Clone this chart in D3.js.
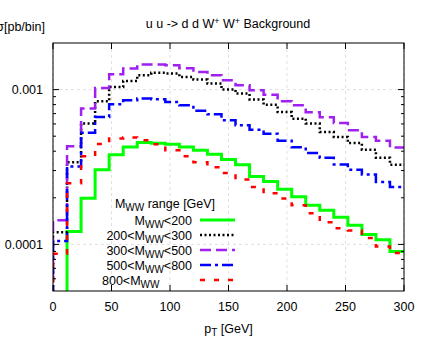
<!DOCTYPE html>
<html>
<head>
<meta charset="utf-8">
<script src="https://cdn.jsdelivr.net/npm/d3@7"></script>
<style>
  body { margin: 0; background: #fff; }
  svg { display: block; }
  text { font-family: "Liberation Sans", Arial, Helvetica, sans-serif; }
</style>
</head>
<body>
<svg id="chart" width="427" height="349"></svg>
<script>
// bins of 12 GeV from 0 to 300
var binEdges = d3.range(0, 301, 12);

var xTicks = [0, 50, 100, 150, 200, 250, 300];
var yTicks = [0.0001, 0.001];
var yTickLabels = ["0.0001", "0.001"];

// dsigma per bin, one value per 12 GeV bin
var mwwLt200 = [0, 1.21e-4, 1.99e-4, 3.04e-4, 3.80e-4, 4.26e-4, 4.56e-4, 4.50e-4, 4.43e-4, 4.26e-4,
  4.05e-4, 3.82e-4, 3.54e-4, 3.27e-4, 2.75e-4, 2.55e-4, 2.27e-4, 2.03e-4, 1.79e-4, 1.66e-4,
  1.50e-4, 1.33e-4, 1.16e-4, 1.07e-4, 9.0e-5];
var mww200to300 = [1.20e-4, 3.40e-4, 6.03e-4, 8.40e-4, 1.039e-3, 1.137e-3, 1.237e-3, 1.284e-3, 1.269e-3, 1.206e-3,
  1.160e-3, 1.093e-3, 1.0e-3, 9.42e-4, 8.62e-4, 7.98e-4, 7.16e-4, 6.49e-4, 6.03e-4, 5.32e-4,
  4.94e-4, 4.52e-4, 4.09e-4, 3.63e-4, 3.27e-4];
var mww300to500 = [1.43e-4, 4.30e-4, 7.54e-4, 1.023e-3, 1.256e-3, 1.367e-3, 1.451e-3, 1.451e-3, 1.436e-3, 1.373e-3,
  1.299e-3, 1.237e-3, 1.148e-3, 1.066e-3, 9.90e-4, 9.26e-4, 8.40e-4, 7.92e-4, 7.13e-4, 6.62e-4,
  6.08e-4, 5.46e-4, 4.95e-4, 4.67e-4, 4.22e-4];
var mww500to800 = [1.05e-4, 3.19e-4, 5.26e-4, 6.65e-4, 8.04e-4, 8.53e-4, 8.75e-4, 8.66e-4, 8.31e-4, 7.92e-4,
  7.29e-4, 6.92e-4, 6.33e-4, 5.88e-4, 5.51e-4, 5.19e-4, 4.68e-4, 4.24e-4, 3.89e-4, 3.63e-4,
  3.28e-4, 3.03e-4, 2.83e-4, 2.53e-4, 2.35e-4];
var mwwGt800 = [8.7e-5, 2.48e-4, 3.71e-4, 4.46e-4, 4.84e-4, 4.91e-4, 4.70e-4, 4.43e-4, 4.05e-4, 3.71e-4,
  3.40e-4, 3.15e-4, 2.89e-4, 2.63e-4, 2.35e-4, 2.14e-4, 1.98e-4, 1.79e-4, 1.59e-4, 1.39e-4,
  1.27e-4, 1.23e-4, 1.10e-4, 9.7e-5, 8.8e-5];

var seriesNames = ["M<tspan baseline-shift='-25%' font-size='10'>WW</tspan>&lt;200",
  "200&lt;M<tspan baseline-shift='-25%' font-size='10'>WW</tspan>&lt;300",
  "300&lt;M<tspan baseline-shift='-25%' font-size='10'>WW</tspan>&lt;500",
  "500&lt;M<tspan baseline-shift='-25%' font-size='10'>WW</tspan>&lt;800",
  "800&lt;M<tspan baseline-shift='-25%' font-size='10'>WW</tspan>"];

var series = [
  {vals: mwwLt200, color: "#00ff00", dash: null, w: 3},
  {vals: mww200to300, color: "#000000", dash: "2,2.5", w: 2.5},
  {vals: mww300to500, color: "#a020f0", dash: "11,5", w: 2.5},
  {vals: mww500to800, color: "#0000ff", dash: "11,4,3,4", w: 2.5},
  {vals: mwwGt800, color: "#ff0000", dash: "5,9", w: 2.5}
];

var margin = {left: 53, top: 43, right: 23, bottom: 58};
var W = 427, H = 349;
var pw = W - margin.left - margin.right,
    ph = H - margin.top - margin.bottom;

var svg = d3.select("#chart");
var g = svg.append("g").attr("transform", "translate(" + margin.left + "," + margin.top + ")");

var x = d3.scaleLinear().domain([0, 300]).range([0, pw]);
var y = d3.scaleLog().domain([5e-5, 2e-3]).range([ph, 0]);

// grid
g.selectAll(".gx").data(xTicks).enter().append("line")
  .attr("x1", d => x(d)).attr("x2", d => x(d))
  .attr("y1", 0).attr("y2", ph)
  .attr("stroke", "#d8d8d8").attr("stroke-width", 0.8).attr("stroke-dasharray", "3,3");
g.selectAll(".gy").data(yTicks).enter().append("line")
  .attr("x1", 0).attr("x2", pw)
  .attr("y1", d => y(d)).attr("y2", d => y(d))
  .attr("stroke", "#d8d8d8").attr("stroke-width", 0.8).attr("stroke-dasharray", "3,3");

// clip for histograms
svg.append("defs").append("clipPath").attr("id", "clip")
  .append("rect").attr("width", pw).attr("height", ph);

function yv(v) {
  return v > 0 ? y(v) : ph + 5;
}

series.forEach(function(s) {
  var pts = [[x(binEdges[0]), ph + 5]];
  s.vals.forEach(function(v, i) {
    pts.push([x(binEdges[i]), yv(v)]);
    pts.push([x(binEdges[i + 1]), yv(v)]);
  });
  g.append("path")
    .attr("clip-path", "url(#clip)")
    .attr("d", d3.line()(pts))
    .attr("fill", "none")
    .attr("stroke", s.color)
    .attr("stroke-width", s.w)
    .attr("stroke-dasharray", s.dash);
});

// border
g.append("rect").attr("width", pw).attr("height", ph)
  .attr("fill", "none").attr("stroke", "#000").attr("stroke-width", 1);

// ticks (inward, both sides)
var minor = [];
[1e-5, 1e-4, 1e-3].forEach(function(dec) {
  for (var k = 2; k <= 9; k++) {
    var v = dec * k;
    if (v > 5e-5 && v < 2e-3) minor.push(v);
  }
});
g.selectAll(".tyl").data(yTicks).enter().append("line")
  .attr("x1", 0).attr("x2", 6).attr("y1", d => y(d)).attr("y2", d => y(d))
  .attr("stroke", "#000");
g.selectAll(".tyr").data(yTicks).enter().append("line")
  .attr("x1", pw).attr("x2", pw - 6).attr("y1", d => y(d)).attr("y2", d => y(d))
  .attr("stroke", "#000");
g.selectAll(".myl").data(minor).enter().append("line")
  .attr("x1", 0).attr("x2", 3).attr("y1", d => y(d)).attr("y2", d => y(d))
  .attr("stroke", "#000");
g.selectAll(".myr").data(minor).enter().append("line")
  .attr("x1", pw).attr("x2", pw - 3).attr("y1", d => y(d)).attr("y2", d => y(d))
  .attr("stroke", "#000");
g.selectAll(".txb").data(xTicks).enter().append("line")
  .attr("x1", d => x(d)).attr("x2", d => x(d)).attr("y1", ph).attr("y2", ph - 6)
  .attr("stroke", "#000");
g.selectAll(".txt").data(xTicks).enter().append("line")
  .attr("x1", d => x(d)).attr("x2", d => x(d)).attr("y1", 0).attr("y2", 6)
  .attr("stroke", "#000");

// tick labels
g.selectAll(".lx").data(xTicks).enter().append("text")
  .attr("x", d => x(d)).attr("y", ph + 20)
  .attr("text-anchor", "middle").attr("font-size", 12.5)
  .text(d => d);
g.selectAll(".ly").data(yTicks).enter().append("text")
  .attr("x", -10).attr("y", d => y(d)).attr("dy", "0.35em")
  .attr("text-anchor", "end").attr("font-size", 12.5)
  .text((d, i) => yTickLabels[i]);

// axis titles
g.append("text").attr("x", x(150)).attr("y", ph + 42)
  .attr("text-anchor", "middle").attr("font-size", 12.5)
  .html("p<tspan baseline-shift='-25%' font-size='10'>T</tspan> [GeV]");
svg.append("text").attr("x", 45).attr("y", 31)
  .attr("text-anchor", "end").attr("font-size", 12.5)
  .text("dσ[pb/bin]");
svg.append("text").attr("x", 228).attr("y", 28)
  .attr("text-anchor", "middle").attr("font-size", 12.5)
  .html("u u -&gt; d d W<tspan baseline-shift='40%' font-size='9'>+</tspan> W<tspan baseline-shift='40%' font-size='9'>+</tspan> Background");

// legend
var lg = svg.append("g");
lg.append("text").attr("x", 165).attr("y", 207.5)
  .attr("text-anchor", "middle").attr("font-size", 12.5)
  .html("M<tspan baseline-shift='-25%' font-size='10'>WW</tspan> range [GeV]");
series.forEach(function(s, i) {
  var yy = 220 + i * 15;
  // last entry sits flush left like the others' start in the original
  var last = i === series.length - 1;
  lg.append("text").attr("x", last ? 102 : 192).attr("y", yy + 4.5)
    .attr("text-anchor", last ? "start" : "end").attr("font-size", 12.5)
    .html(seriesNames[i]);
  lg.append("line").attr("x1", 200).attr("x2", 235).attr("y1", yy).attr("y2", yy)
    .attr("stroke", s.color).attr("stroke-width", s.w)
    .attr("stroke-dasharray", s.dash);
});
</script>
</body>
</html>
